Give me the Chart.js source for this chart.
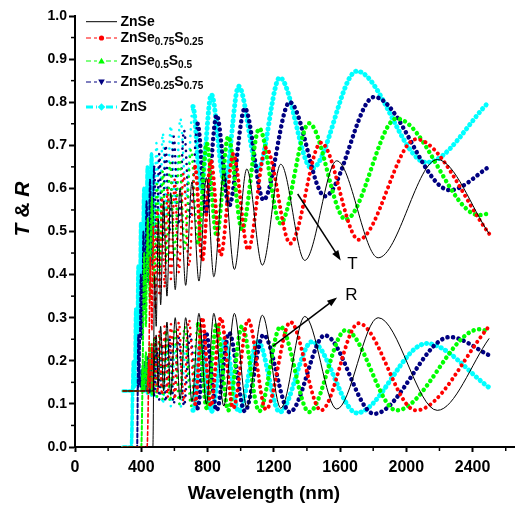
<!DOCTYPE html>
<html><head><meta charset="utf-8">
<script src="https://cdn.jsdelivr.net/npm/chart.js@4.4.0/dist/chart.umd.min.js"></script>
<style>html,body{margin:0;padding:0;background:#fff;}#wrap{width:515px;height:512px;}</style>
</head><body><div id="wrap"><canvas id="c" width="515" height="512"></canvas></div>
<script>
// ---------------- data ----------------
const xTicks = [0, 400, 800, 1200, 1600, 2000, 2400];
const yTicks = [0, 0.1, 0.2, 0.3, 0.4, 0.5, 0.6, 0.7, 0.8, 0.9, 1.0];

// ZnSe
const znseLam = [290,470,480,490,503,517,535,555,578,605,634,668,706,748,793,838,898,962,1037,1131,1242,1387,1580,1830,2187,2500];
const znseT   = [0,0,.40,.28,.53,.33,.57,.35,.59,.365,.60,.375,.615,.385,.625,.395,.634,.412,.645,.422,.656,.433,.664,.439,.667,.495];
const znseR   = [.13,.13,.2,.26,.14,.28,.13,.29,.12,.30,.11,.30,.105,.31,.10,.31,.095,.31,.093,.306,.09,.303,.088,.30,.085,.252];
// ZnSe0.75S0.25
const s25Lam = [290,435,446,455,464,474,485,497,510,525,541,559,579,602,627,655,688,725,768,820,880,955,1045,1153,1300,1485,1712,2058,2500];
const s25T   = [0,0,.2,.44,.27,.51,.32,.55,.35,.58,.37,.60,.39,.62,.405,.635,.42,.65,.433,.665,.445,.68,.458,.694,.472,.706,.481,.714,.495];
const s25R   = [.13,.13,.2,.135,.24,.13,.26,.125,.27,.12,.28,.115,.285,.11,.29,.105,.295,.10,.30,.095,.30,.09,.295,.087,.29,.085,.287,.085,.28];
// ZnSe0.5S0.5
const s50Lam = [290,400,409,418,428,439,451,464,478,494,511,530,551,574,600,630,663,700,742,795,855,925,1008,1112,1240,1413,1634,1941,2440,2500];
const s50T   = [0,0,.2,.45,.28,.53,.34,.58,.38,.61,.41,.64,.43,.66,.445,.675,.46,.69,.475,.705,.49,.72,.505,.739,.519,.751,.528,.762,.538,.542];
const s50R   = [.13,.13,.19,.13,.22,.125,.24,.12,.25,.115,.26,.11,.27,.105,.275,.10,.28,.095,.285,.09,.285,.085,.28,.083,.279,.081,.271,.085,.273,.267];
// ZnSe0.25S0.75
const s75Lam = [290,375,382,389,397,405,413,422,432,442,453,465,478,493,509,527,547,570,596,625,658,695,740,790,855,930,1025,1138,1296,1508,1806,2263,2500];
const s75T   = [0,0,.26,.16,.40,.25,.50,.32,.57,.38,.62,.42,.65,.45,.68,.48,.70,.50,.72,.515,.735,.53,.75,.545,.77,.56,.786,.573,.80,.582,.812,.596,.65];
const s75R   = [.13,.13,.14,.16,.14,.18,.135,.20,.13,.21,.125,.22,.12,.23,.11,.24,.105,.25,.10,.255,.095,.26,.09,.265,.085,.265,.083,.26,.081,.259,.077,.255,.213];
// ZnS
const znsLam = [290,340,353,360,367,374,381,389,397,406,416,426,437,449,462,476,492,510,530,553,578,605,636,672,712,760,823,903,988,1105,1236,1430,1701,2122,2500];
const znsT   = [0,0,.2,.14,.32,.2,.42,.28,.52,.36,.60,.42,.65,.46,.68,.49,.705,.52,.728,.54,.745,.56,.762,.58,.79,.60,.818,.611,.837,.645,.857,.646,.872,.660,.801];
const znsR   = [.13,.13,.14,.15,.145,.16,.15,.17,.14,.18,.13,.19,.125,.20,.12,.21,.11,.22,.10,.23,.095,.235,.09,.24,.085,.24,.082,.248,.082,.244,.081,.244,.079,.24,.138];

// annotation anchor points (data units)
const tArrow = [[1344, 0.587], [1604, 0.433]];
const tLabel = [1675, 0.424];
const rArrow = [[1195, 0.234], [1582, 0.347]];
const rLabel = [1669, 0.352];

// ---------------- styling ----------------
const FONT = 'Arial, "Liberation Sans", sans-serif';
const EDGE = 480;  // below this the curves look like dashed columns
const DENSE = 760; // below this oscillations are packed tightly
const styles = [
  {name:[{t:'ZnSe'}], color:'#000000', width:1, dash:[], marker:null},
  {name:[{t:'ZnSe'},{t:'0.75',s:1},{t:'S'},{t:'0.25',s:1}], color:'#ff0000', width:4, dash:[0.1,5.5], marker:'circle', edgeW:1.6},
  {name:[{t:'ZnSe'},{t:'0.5',s:1},{t:'S'},{t:'0.5',s:1}], color:'#00ff00', width:4.5, dash:[0.1,5.5], marker:'triUp', edgeW:2},
  {name:[{t:'ZnSe'},{t:'0.25',s:1},{t:'S'},{t:'0.75',s:1}], color:'#000080', width:4.5, dash:[0.1,5.5], marker:'triDown', edgeW:2},
  {name:[{t:'ZnS'}], color:'#00ffff', width:5, dash:[0.1,5], marker:'diamond', edgeW:3.6}
];
const series = [
  [znseLam, znseT, znseR],
  [s25Lam, s25T, s25R],
  [s50Lam, s50T, s50R],
  [s75Lam, s75T, s75R],
  [znsLam, znsT, znsR]
];
const pts = (lam, v) => lam.map((x, i) => ({x, y: v[i]}));
const datasets = [];
series.forEach((s, i) => {
  const st = styles[i];
  const dotted = st.dash.length > 0;
  [1, 2].forEach(k => {
    datasets.push({
      data: pts(s[0], s[k]),
      borderColor: st.color,
      borderWidth: st.width,
      borderDash: st.dash,
      borderCapStyle: dotted ? 'round' : 'butt',
      borderJoinStyle: 'round',
      pointRadius: 0,
      fill: false,
      cubicInterpolationMode: 'monotone',
      segment: dotted ? {
        borderWidth: c => c.p1.parsed.x <= EDGE ? st.edgeW : (c.p1.parsed.x < DENSE ? 2.6 : st.width),
        borderDash: c => c.p1.parsed.x <= EDGE ? [3.5, 2.5] : (c.p1.parsed.x < DENSE ? [0.1, 6.5] : st.dash)
      } : undefined,
      order: i + 1
    });
  });
});

function marker(ctx, type, x, y, color) {
  ctx.fillStyle = color;
  ctx.beginPath();
  if (type === 'circle') { ctx.arc(x, y, 2.6, 0, Math.PI * 2); }
  else if (type === 'triUp') { ctx.moveTo(x, y - 3.2); ctx.lineTo(x + 3.3, y + 2.4); ctx.lineTo(x - 3.3, y + 2.4); ctx.closePath(); }
  else if (type === 'triDown') { ctx.moveTo(x, y + 3.2); ctx.lineTo(x + 3.3, y - 2.4); ctx.lineTo(x - 3.3, y - 2.4); ctx.closePath(); }
  else if (type === 'diamond') { ctx.moveTo(x, y - 3.8); ctx.lineTo(x + 3.8, y); ctx.lineTo(x, y + 3.8); ctx.lineTo(x - 3.8, y); ctx.closePath(); }
  ctx.fill();
}

function drawRich(ctx, parts, x, y, size, style) {
  let cx = x;
  parts.forEach(p => {
    const sz = p.s ? size * 0.72 : size;
    ctx.font = `${p.st || style || 'bold'} ${sz}px ${FONT}`;
    ctx.fillText(p.t, cx, p.s ? y + size * 0.33 : y);
    cx += ctx.measureText(p.t).width;
  });
  return cx - x;
}

function arrow(ctx, x0, y0, x1, y1) {
  const a = Math.atan2(y1 - y0, x1 - x0), L = 10, W = 3.6;
  ctx.beginPath(); ctx.moveTo(x0, y0);
  ctx.lineTo(x1 - L * 0.8 * Math.cos(a), y1 - L * 0.8 * Math.sin(a)); ctx.stroke();
  ctx.beginPath();
  ctx.moveTo(x1, y1);
  ctx.lineTo(x1 - L * Math.cos(a) + W * Math.sin(a), y1 - L * Math.sin(a) - W * Math.cos(a));
  ctx.lineTo(x1 - L * Math.cos(a) - W * Math.sin(a), y1 - L * Math.sin(a) + W * Math.cos(a));
  ctx.closePath(); ctx.fill();
}

const deco = {
  id: 'deco',
  afterDraw(chart) {
    const {ctx, chartArea: ca, scales: {x, y}} = chart;
    ctx.save();
    ctx.strokeStyle = '#000'; ctx.fillStyle = '#000'; ctx.lineWidth = 1.5;
    // minor ticks
    for (let v = 200; v <= x.max; v += 400) {
      const px = x.getPixelForValue(v);
      ctx.beginPath(); ctx.moveTo(px, ca.bottom); ctx.lineTo(px, ca.bottom + 4); ctx.stroke();
    }
    for (let v = 0.05; v < 1; v += 0.1) {
      const py = y.getPixelForValue(v);
      ctx.beginPath(); ctx.moveTo(ca.left, py); ctx.lineTo(ca.left - 4, py); ctx.stroke();
    }
    // axis titles
    ctx.textBaseline = 'middle'; ctx.textAlign = 'center';
    ctx.font = `bold 19px ${FONT}`;
    ctx.fillText('Wavelength (nm)', (ca.left + ca.right) / 2 - 31, 494);
    ctx.save();
    ctx.translate(23, 209); ctx.rotate(-Math.PI / 2);
    ctx.textAlign = 'left';
    const yt = [{t:'T', st:'italic bold'}, {t:' & ', st:'bold'}, {t:'R', st:'italic bold'}];
    let tw = 0; yt.forEach(p => { ctx.font = `${p.st} 21px ${FONT}`; tw += ctx.measureText(p.t).width; });
    drawRich(ctx, yt, -tw / 2, 0, 21);
    ctx.restore();
    // arrows + labels
    ctx.lineWidth = 1.5;
    arrow(ctx, x.getPixelForValue(tArrow[0][0]), y.getPixelForValue(tArrow[0][1]), x.getPixelForValue(tArrow[1][0]), y.getPixelForValue(tArrow[1][1]));
    arrow(ctx, x.getPixelForValue(rArrow[0][0]), y.getPixelForValue(rArrow[0][1]), x.getPixelForValue(rArrow[1][0]), y.getPixelForValue(rArrow[1][1]));
    ctx.font = `17px ${FONT}`; ctx.textAlign = 'center';
    ctx.fillText('T', x.getPixelForValue(tLabel[0]), y.getPixelForValue(tLabel[1]));
    ctx.fillText('R', x.getPixelForValue(rLabel[0]), y.getPixelForValue(rLabel[1]));
    // legend
    const rowsY = [21.7, 38, 61, 82, 107];
    ctx.textAlign = 'left';
    styles.forEach((st, i) => {
      const ly = rowsY[i], x0 = 86, x1 = 117;
      ctx.strokeStyle = st.color; ctx.setLineDash([]);
      if (!st.marker) {
        ctx.lineWidth = 1; ctx.beginPath(); ctx.moveTo(x0, ly); ctx.lineTo(x1, ly); ctx.stroke();
      } else {
        ctx.lineWidth = i === 4 ? 3 : 1.2;
        ctx.setLineDash(i === 4 ? [7, 3] : [5, 3]);
        ctx.beginPath(); ctx.moveTo(x0, ly); ctx.lineTo(x0 + 11, ly); ctx.stroke();
        ctx.beginPath(); ctx.moveTo(x1 - 11, ly); ctx.lineTo(x1, ly); ctx.stroke();
        ctx.setLineDash([]);
        marker(ctx, st.marker, (x0 + x1) / 2, ly, st.color);
      }
      ctx.fillStyle = '#000';
      drawRich(ctx, st.name, 120.5, ly, 14, 'bold');
    });
    ctx.restore();
  }
};

new Chart(document.getElementById('c'), {
  type: 'line',
  data: {datasets},
  options: {
    responsive: false, animation: false, events: [],
    layout: {padding: {left: 0, top: 16, right: 0, bottom: 0}},
    plugins: {legend: {display: false}, tooltip: {enabled: false}},
    scales: {
      x: {
        type: 'linear', min: 0, max: 2656,
        afterBuildTicks: s => { s.ticks = xTicks.map(v => ({value: v})); },
        afterFit: s => { s.height = 65; },
        grid: {drawOnChartArea: false, drawTicks: true, tickLength: 5, tickWidth: 2, tickColor: '#000'},
        border: {display: true, color: '#000', width: 2},
        ticks: {color: '#000', padding: 6, maxRotation: 0, callback: v => String(v), font: {family: FONT, size: 16, weight: 'bold'}}
      },
      y: {
        type: 'linear', min: 0, max: 1,
        afterBuildTicks: s => { s.ticks = yTicks.map(v => ({value: v})); },
        afterFit: s => { s.width = 75; },
        grid: {drawOnChartArea: false, drawTicks: true, tickLength: 6, tickWidth: 2, tickColor: '#000'},
        border: {display: true, color: '#000', width: 2},
        ticks: {color: '#000', padding: 2, callback: v => v.toFixed(1), font: {family: FONT, size: 14, weight: 'bold'}}
      }
    }
  },
  plugins: [deco]
});
</script></body></html>
